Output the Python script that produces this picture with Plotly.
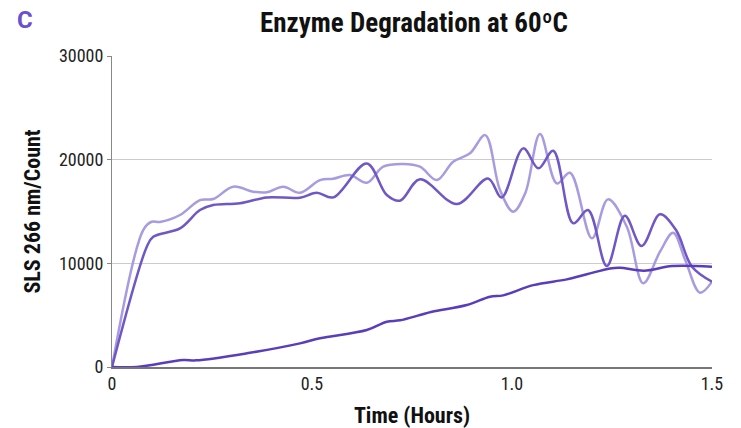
import plotly.graph_objects as go

# Slow-rising series (dark)
t_dark = [0, 0.062, 0.178, 0.21, 0.337, 0.47, 0.52, 0.637, 0.687, 0.72, 0.77, 0.80, 0.887,
          0.945, 0.978, 1.053, 1.137, 1.187, 1.245, 1.27, 1.33, 1.40, 1.5]
v_dark = [0, 0, 675, 640, 1320, 2280, 2770, 3570, 4370, 4500, 5010, 5330, 5980,
          6780, 6910, 7900, 8450, 8940, 9510, 9580, 9290, 9740, 9670]

# Fast-rising series (medium)
t_mid = [0, 0.087, 0.103, 0.17, 0.22, 0.253, 0.32, 0.387, 0.47, 0.512, 0.553, 0.637, 0.687,
         0.72, 0.77, 0.862, 0.94, 0.974, 1.028, 1.066, 1.103, 1.153, 1.19, 1.237, 1.282,
         1.324, 1.37, 1.41, 1.45, 1.5]
v_mid = [0, 11600, 12560, 13370, 15140, 15620, 15790, 16360, 16330, 16810, 16360, 19640, 16590,
         16040, 18100, 15720, 18190, 16360, 21090, 19160, 20860, 13860, 15140, 9740, 14590,
         11670, 14730, 13210, 9670, 8230]

# Fast-rising series (light)
t_light = [0, 0.078, 0.099, 0.12, 0.17, 0.22, 0.253, 0.303, 0.353, 0.387, 0.428, 0.47, 0.52,
           0.553, 0.595, 0.637, 0.678, 0.728, 0.77, 0.812, 0.853, 0.895, 0.933, 0.97, 1.003,
           1.033, 1.07, 1.112, 1.145, 1.2, 1.24, 1.287, 1.328, 1.37, 1.403, 1.433, 1.47, 1.5]
v_light = [0, 13210, 14010, 13990, 14660, 16100, 16200, 17390, 16910, 16850, 17390, 16810, 18030,
           18160, 18520, 17770, 19320, 19580, 19320, 18030, 19800, 20610, 22370, 17070, 14980,
           16750, 22470, 17710, 18740, 12410, 16170, 13530, 8070, 11120, 12950, 10320, 7170, 8230]

x_ticks = [0, 0.5, 1.0, 1.5]
x_tick_labels = ["0", "0.5", "1.0", "1.5"]
y_ticks = [0, 10000, 20000, 30000]
y_tick_labels = ["0", "10000", "20000", "30000"]

fig = go.Figure()
fig.add_trace(go.Scatter(x=t_light, y=v_light, mode="lines",
                         line=dict(color="#a99be0", width=2.5, shape="spline", smoothing=1.0)))
fig.add_trace(go.Scatter(x=t_mid, y=v_mid, mode="lines",
                         line=dict(color="#6f57c6", width=2.5, shape="spline", smoothing=1.0)))
fig.add_trace(go.Scatter(x=t_dark, y=v_dark, mode="lines",
                         line=dict(color="#5a3dbd", width=2.5, shape="spline", smoothing=1.0)))

font_fam = "Roboto Condensed, Roboto, Arial, sans-serif"
W, H = 733, 420  # page has an 8px body margin
fig.update_layout(
    width=W, height=H,
    margin=dict(l=104, r=29, t=48, b=61, autoexpand=False),
    paper_bgcolor="white", plot_bgcolor="white",
    showlegend=False,
    font=dict(family=font_fam, color="#222", size=18),
    title=dict(text="<b>Enzyme Degradation at 60ºC</b>", x=406 / W, xanchor="center",
               y=1 - 15 / H, yanchor="middle", font=dict(size=27, color="#111", family=font_fam)),
    annotations=[dict(text="<b>C</b>", xref="paper", yref="paper", x=-(104 - 7) / 600,
                      y=1 + 36 / 311, xanchor="left", yanchor="middle", showarrow=False,
                      font=dict(size=24, color="#6a4fcf", family="Roboto, Arial, sans-serif"))],
    xaxis=dict(range=[0, 1.5], tickvals=x_ticks, ticktext=x_tick_labels, automargin=False,
               showgrid=False, zeroline=False, showline=True, linecolor="#777", linewidth=1.5,
               ticks="", tickfont=dict(size=18, color="#222"),
               title=dict(text="<b>Time (Hours)</b>", font=dict(size=22, color="#111"), standoff=17)),
    yaxis=dict(range=[0, 30000], tickvals=y_ticks, ticktext=y_tick_labels, automargin=False,
               showgrid=True, gridcolor="#cccccc", gridwidth=1,
               zeroline=False, showline=True, linecolor="#888", linewidth=1,
               ticks="outside", ticklen=4, tickcolor="#888", tickfont=dict(size=18, color="#222"),
               title=dict(text="<b>SLS 266 nm/Count</b>", font=dict(size=22, color="#111"), standoff=12)),
)

fig.write_html("out.html")
